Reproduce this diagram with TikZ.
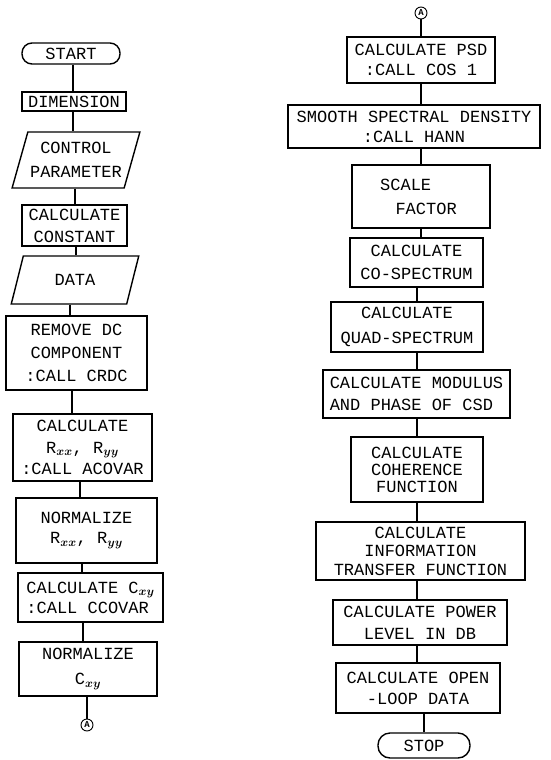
\documentclass[tikz,border=0pt]{standalone}
\usepackage{fontspec}
\usepackage{bm}
\newfontfamily\tw{Liberation Mono}
\usetikzlibrary{shapes.geometric}
\begin{document}
\begin{tikzpicture}[x=1pt,y=-1pt,
  box/.style={draw, line width=1.4pt, inner sep=0pt, align=center,
    font=\tw\fontsize{17}{#1}\selectfont},
  box/.default=21,
  term/.style={box, rounded corners=10pt},
  io/.style={box=#1, trapezium, trapezium stretches=true,
    trapezium left angle=67, trapezium right angle=113},
  io/.default=24,
  conn/.style={draw, circle, line width=0.9pt, inner sep=0pt, minimum size=12pt,
    font=\tw\fontsize{9}{9}\selectfont\bfseries},
  link/.style={line width=1.4pt}]
\useasboundingbox (0,0) rectangle (551,760);
% ---------- left column ----------
\node[term, minimum width=98pt, minimum height=21pt] (start) at (71,53.5) {START};
\node[box, minimum width=104pt, minimum height=19pt] (dim) at (74,101.5) {DIMENSION};
\node[io, minimum width=128pt, minimum height=56pt] (ctrl) at (76,160) {CONTROL\\PARAMETER};
\node[box=22, minimum width=105pt, minimum height=41pt] (const) at (74.5,225.5) {CALCULATE\\CONSTANT};
\node[io, minimum width=128pt, minimum height=48pt] (data) at (75,280) {DATA};
\node[box=23, minimum width=141pt, minimum height=74pt] (crdc) at (76.5,353) {REMOVE DC\\COMPONENT\\:CALL CRDC};
\node[box=21.5, minimum width=139pt, minimum height=67pt] (rxx) at (82.5,447.5) {CALCULATE\\R$_{\bm{xx}}$, R$_{\bm{yy}}$\\:CALL ACOVAR};
\node[box=20, minimum width=141pt, minimum height=65pt] (nrxx) at (86.5,530.5) {NORMALIZE\\R$_{\bm{xx}}$, R$_{\bm{yy}}$};
\node[box=20, align=left, minimum width=145pt, minimum height=49pt] (cxy) at (90.5,597.5) {CALCULATE C$_{\bm{xy}}$\\:CALL CCOVAR};
\node[box=25, minimum width=138pt, minimum height=54pt] (ncxy) at (88,669) {NORMALIZE\\C$_{\bm{xy}}$};
\node[conn] (a1) at (87,725) {A};
\draw[link] (start.south -| 73,0) -- (dim.north -| 73,0);
\draw[link] (dim.south -| 73,0) -- (ctrl.north -| 73,0);
\draw[link] (ctrl.south -| 75,0) -- (const.north -| 75,0);
\draw[link] (const.south -| 76,0) -- (data.north -| 76,0);
\draw[link] (data.south -| 70,0) -- (crdc.north -| 70,0);
\draw[link] (crdc.south -| 72,0) -- (rxx.north -| 72,0);
\draw[link] (rxx.south -| 80,0) -- (nrxx.north -| 80,0);
\draw[link] (nrxx.south -| 82,0) -- (cxy.north -| 82,0);
\draw[link] (cxy.south -| 83,0) -- (ncxy.north -| 83,0);
\draw[link] (ncxy.south -| 87,0) -- (a1.north);
% ---------- right column ----------
\node[conn] (a2) at (421,13) {A};
\node[box=20, minimum width=148pt, minimum height=46pt] (psd) at (421,60) {CALCULATE PSD\\:CALL COS 1};
\node[box=20, minimum width=252pt, minimum height=43pt] (hann) at (414,126.5) {SMOOTH SPECTRAL DENSITY\\:CALL HANN};
\node[box=24, minimum width=138pt, minimum height=63pt] (scale) at (421,196.5) {SCALE\phantom{SCA}\\\phantom{.}FACTOR};
\node[box=23, minimum width=133pt, minimum height=49pt] (co) at (416.5,262.5) {CALCULATE\\CO-SPECTRUM};
\node[box=25, minimum width=152pt, minimum height=50pt] (quad) at (407,327) {CALCULATE\\QUAD-SPECTRUM};
\node[box=22, align=left, minimum width=187pt, minimum height=48pt] (mod) at (416.5,394) {CALCULATE MODULUS\\AND PHASE OF CSD};
\node[box=17, minimum width=132pt, minimum height=65pt] (coh) at (417,469.5) {CALCULATE\\COHERENCE\\FUNCTION};
\node[box=18.5, minimum width=209pt, minimum height=58pt] (info) at (420.5,551) {CALCULATE\\INFORMATION\\TRANSFER FUNCTION};
\node[box=22, minimum width=174pt, minimum height=45pt] (power) at (420,622.5) {CALCULATE POWER\\LEVEL IN DB};
\node[box=21, minimum width=164pt, minimum height=50pt] (open) at (418,688) {CALCULATE OPEN\\-LOOP DATA};
\node[term, minimum width=92pt, minimum height=25pt, rounded corners=12pt] (stop) at (424,745.5) {STOP};
\draw[link] (a2.south) -- (psd.north -| a2.south);
\draw[link] (psd.south -| 421,0) -- (hann.north -| 421,0);
\draw[link] (hann.south -| 421,0) -- (scale.north -| 421,0);
\draw[link] (scale.south -| 421,0) -- (co.north -| 421,0);
\draw[link] (co.south -| 417,0) -- (quad.north -| 417,0);
\draw[link] (quad.south -| 417,0) -- (mod.north -| 417,0);
\draw[link] (mod.south -| 417,0) -- (coh.north -| 417,0);
\draw[link] (coh.south -| 417,0) -- (info.north -| 417,0);
\draw[link] (info.south -| 417,0) -- (power.north -| 417,0);
\draw[link] (power.south -| 417,0) -- (open.north -| 417,0);
\draw[link] (open.south -| 424,0) -- (stop.north -| 424,0);
\end{tikzpicture}
\end{document}
